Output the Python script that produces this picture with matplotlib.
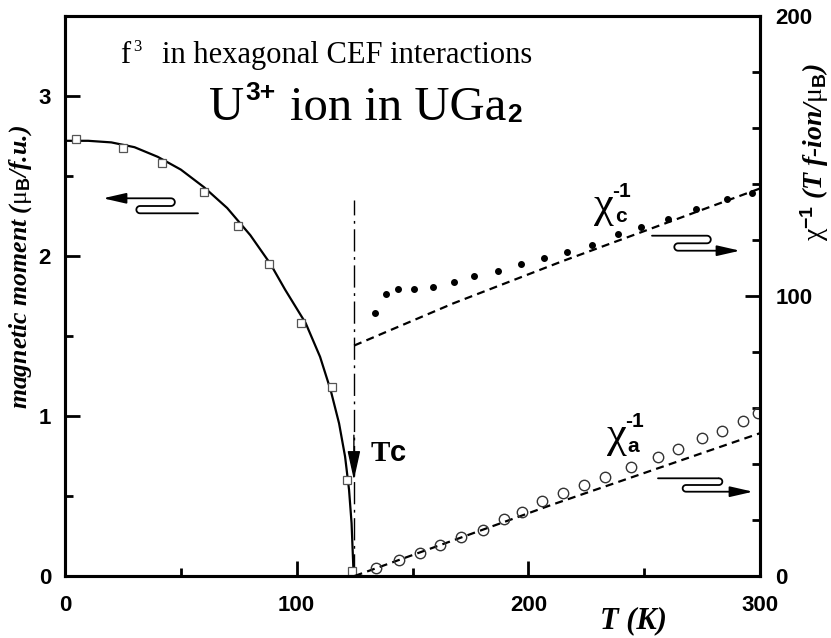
import numpy as np
import matplotlib
matplotlib.use("Agg")
import matplotlib.pyplot as plt
from matplotlib.path import Path
from matplotlib.patches import FancyArrowPatch
from matplotlib.ticker import MultipleLocator

# --- data -------------------------------------------------------------
# ordered moment, open squares (T in K, moment in muB/f.u.)
T_mom = [4.8, 25.0, 42.0, 60.0, 74.6, 88.0, 101.7, 115.2, 121.9, 123.8]
mom = [2.73, 2.675, 2.58, 2.40, 2.19, 1.95, 1.58, 1.18, 0.60, 0.03]

# calculated moment (solid line)
T_mom_calc = [0, 10, 20, 30, 40, 50, 60, 70, 80, 88.7, 95.0, 103.9, 110.1,
              114.7, 118.3, 120.9, 122.6, 123.7, 124.5, 124.6]
mom_calc = [2.72, 2.72, 2.71, 2.68, 2.62, 2.54, 2.43, 2.30, 2.13, 1.95, 1.79,
            1.58, 1.37, 1.16, 0.954, 0.746, 0.54, 0.33, 0.04, 0.0]

# inverse susceptibility along c (filled dots) and calculated (dashed)
T_chi_c = [133.9, 138.5, 143.9, 150.8, 158.7, 167.7, 176.6, 186.9, 197.0,
           206.9, 216.9, 227.3, 238.5, 248.6, 260.2, 272.3, 285.7, 296.5]
chi_c = [94.0, 100.6, 102.5, 102.5, 103.2, 105.1, 107.0, 108.9, 111.4,
         113.5, 115.8, 118.2, 122.1, 124.5, 127.4, 131.1, 134.5, 136.7]
T_chi_c_calc = [124.8, 167.7, 214.3, 300.0]
chi_c_calc = [82.3, 97.4, 112.3, 138.4]

# inverse susceptibility along a (open circles) and calculated (dashed)
T_chi_a = [134.2, 144.3, 153.2, 162.0, 171.0, 180.4, 189.5, 197.3, 205.9,
           214.8, 224.1, 233.0, 244.3, 255.8, 264.5, 274.9, 283.8, 292.5, 299.1]
chi_a = [2.7, 5.7, 8.3, 11.1, 13.8, 16.4, 20.2, 23.0, 26.9, 29.6, 32.5,
         35.2, 39.0, 42.6, 45.2, 49.2, 51.8, 55.4, 58.1]
T_chi_a_calc = [125.0, 210.0, 300.0]
chi_a_calc = [0.0, 25.4, 51.0]

T_C = 124.7          # Curie temperature
TC_LINE_TOP = 2.35   # top of the dash-dot marker
TC_ARROW = (0.88, 0.60)

W, H = 831, 638
SERIF = "Liberation Serif"
SANS = "Liberation Sans"

plt.rcParams["mathtext.fontset"] = "custom"
plt.rcParams["mathtext.rm"] = SERIF
plt.rcParams["mathtext.it"] = SERIF + ":italic"
plt.rcParams["mathtext.bf"] = SERIF + ":bold"
plt.rcParams["mathtext.sf"] = SANS + ":bold"

fig = plt.figure(figsize=(W / 100, H / 100), dpi=100)
ax = fig.add_axes([65 / W, 1 - 576 / H, 695 / W, 560 / H])
ax2 = ax.twinx()
renderer = fig.canvas.get_renderer()


def px(x, y):
    """pixel position (origin top-left) -> figure fraction"""
    return x / W, 1 - y / H


def right_edge(txt):
    return txt.get_window_extent(renderer).x1


# --- moment (left axis) ----------------------------------------------
ax.plot(T_mom_calc, mom_calc, color="black", lw=1.6, zorder=3)
ax.plot(T_mom, mom, ls="none", marker="s", ms=5.5, mfc="white",
        mec="#555555", mew=0.9, zorder=4)
ax.plot([T_C, T_C], [0, TC_LINE_TOP], color="black", lw=1.0,
        ls=(0, (16, 4, 2, 4)), zorder=2)
ax.annotate("", xy=(T_C, TC_ARROW[1]), xytext=(T_C, TC_ARROW[0]),
            arrowprops=dict(arrowstyle="-|>,head_length=1.5,head_width=0.33",
                            mutation_scale=12, color="black", lw=1.0,
                            shrinkA=0, shrinkB=0))

ax.set_xlim(0, 300)
ax.set_ylim(0, 3.5)
ax.xaxis.set_major_locator(MultipleLocator(100))
ax.xaxis.set_minor_locator(MultipleLocator(50))
ax.yaxis.set_major_locator(MultipleLocator(1))
ax.yaxis.set_minor_locator(MultipleLocator(0.5))

# --- inverse susceptibility (right axis) -----------------------------
dash = (0, (3.6, 2.4))
ax2.plot(T_chi_c_calc, chi_c_calc, color="black", lw=1.6, ls=dash)
ax2.plot(T_chi_c, chi_c, ls="none", marker="o", ms=4, color="black")
ax2.plot(T_chi_a_calc, chi_a_calc, color="black", lw=1.6, ls=dash)
ax2.plot(T_chi_a, chi_a, ls="none", marker="o", ms=7.5, mfc="none",
         mec="#333333", mew=1.0)
ax2.set_ylim(0, 200)
ax2.yaxis.set_major_locator(MultipleLocator(100))
ax2.yaxis.set_minor_locator(MultipleLocator(20))

# --- axes styling -----------------------------------------------------
tick_font = dict(family=SANS, weight="bold", size=16)
for a in (ax, ax2):
    for s in a.spines.values():
        s.set_linewidth(2.2)
    a.tick_params(which="both", direction="in", width=2.0, top=False)
    a.tick_params(which="major", length=10.5)
    a.tick_params(which="minor", length=5.5)
ax.tick_params(axis="y", which="both", right=False, pad=10)
ax.tick_params(axis="x", pad=14)
ax2.tick_params(axis="y", which="both", left=False, pad=11)
for lab in ax.get_xticklabels() + ax.get_yticklabels() + ax2.get_yticklabels():
    lab.set_fontproperties(tick_font)

# --- axis titles --------------------------------------------------------
lab_font = dict(family=SERIF, weight="bold", style="italic")
fig.text(*px(21, 267), r"magnetic moment ($\mathrm{\mu}_{\mathsf{B}}$/f.u.)",
         rotation=90, ha="center", va="center", size=18.5, **lab_font)
fig.text(*px(815, 152), r"$\mathrm{\chi}^{\mathsf{-1}}$ (T f-ion/$\mathrm{\mu}_{\mathsf{B}}$)",
         rotation=90, ha="center", va="center", size=20, **lab_font)
fig.text(*px(633, 621), "T (K)", ha="center", va="center", size=22, **lab_font)

# --- headings -------------------------------------------------------------
fig.text(*px(120, 63), "f", family=SERIF, size=22, va="baseline")
fig.text(*px(133, 51), "3", family=SERIF, size=12, va="baseline")
fig.text(*px(162, 63), "in hexagonal CEF interactions", family=SERIF,
         size=22, va="baseline")

u = fig.text(*px(209, 120), "U", family=SERIF, size=35, va="baseline")
fig.text(right_edge(u) / W + 1 / W, 1 - 100 / H, "3+", family=SANS,
         weight="bold", size=19, va="baseline")
body = fig.text(*px(290, 120), "ion in UGa", family=SERIF, size=35,
                va="baseline")
fig.text(right_edge(body) / W + 1 / W, 1 - 122 / H, "2", family=SANS,
         weight="bold", size=19, va="baseline")

# curve labels: chi with subscript axis and superscript -1
for x0, y0, sub in ((594, 217, "c"), (607, 447, "a")):
    chi = fig.text(*px(x0, y0), "χ", family=SERIF, size=32, va="baseline")
    xr = right_edge(chi)
    fig.text(xr / W + 1 / W, 1 - (y0 + 5) / H, sub, family=SANS,
             weight="bold", size=15, va="baseline")
    fig.text(xr / W - 2 / W, 1 - (y0 - 20) / H, "-1", family=SANS,
             weight="bold", size=15, va="baseline")

fig.text(*px(370, 461), r"T$\mathsf{c}$", family=SERIF, weight="bold",
         size=21, va="baseline")


# --- wavy arrows pointing to the relevant axis ---------------------------
def wavy_arrow(x_start, x_turn1, x_turn2, x_tip, y0, y1, y2):
    """S-shaped arrow: start at (x_start, y0), turn at x_turn1 to y1,
    turn at x_turn2 to y2, then run to the head at x_tip (pixels)."""
    pts = [(x_start, y0), (x_turn1, y0)]
    for xc, ya, yb in ((x_turn1, y0, y1), (x_turn2, y1, y2)):
        r = abs(yb - ya) / 2
        yc = (ya + yb) / 2
        side = np.sign(xc - x_start) if xc == x_turn1 else -np.sign(xc - x_start)
        ang = np.linspace(-np.pi / 2, np.pi / 2, 12)
        if yb < ya:
            ang = ang[::-1]
        for t in ang:
            pts.append((xc + side * r * np.cos(t), yc + r * np.sin(t)))
    pts.append((x_tip, y2))
    verts = [px(x, y) for x, y in pts]
    patch = FancyArrowPatch(path=Path(verts), transform=fig.transFigure,
                            arrowstyle="-|>,head_length=1.4,head_width=0.32",
                            mutation_scale=10, color="black", lw=1.3)
    fig.patches.append(patch)


wavy_arrow(198, 140, 171, 103, 213.3, 206.0, 198.3)
wavy_arrow(652, 707, 678, 740, 235.7, 243.3, 250.7)
wavy_arrow(658, 719, 686, 753, 478.3, 485.0, 491.7)

fig.savefig("out.png", dpi=100)
